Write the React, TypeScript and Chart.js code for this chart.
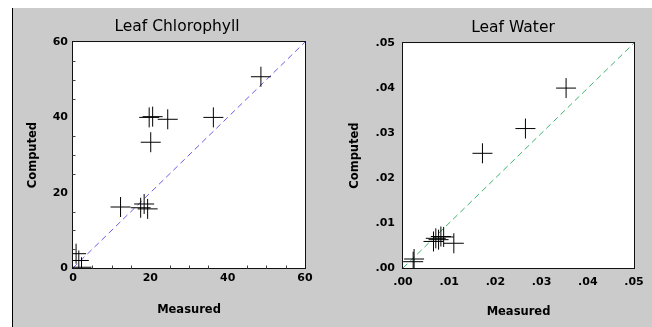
import React, { useEffect, useRef } from "react";
import { Chart, registerables } from "chart.js";

Chart.register(...registerables);

// ---------- data ----------
const chlMeasured = [48.6, 36.3, 19.7, 20.6, 24.5, 20.1, 12.3, 17.5, 18.4, 19.3, 0.8, 1.5, 2.2];
const chlComputed = [50.8, 40.0, 40.0, 40.2, 39.5, 33.4, 16.2, 16.0, 17.0, 15.7, 3.8, 2.0, 0.2];
const chlAxisMin = 0;
const chlAxisMax = 60;
const chlStep = 20;
const chlMinorTicks = [5, 10, 15, 25, 30, 35, 45, 50, 55];

const watMeasured = [0.0353, 0.0265, 0.0172, 0.0066, 0.0071, 0.0077, 0.0082, 0.0088, 0.011, 0.0024, 0.0022];
const watComputed = [0.040, 0.031, 0.0255, 0.0059, 0.0066, 0.0063, 0.007, 0.0069, 0.0055, 0.002, 0.0014];
const watAxisMin = 0;
const watAxisMax = 0.05;
const watStep = 0.01;
const watMinorTicks: number[] = [];

const FONT = "'DejaVu Sans', Verdana, sans-serif";

const framePlugin = {
  id: "plotFrame",
  beforeDraw(chart: any) {
    const { ctx, chartArea } = chart;
    const { left, top, right, bottom } = chartArea;
    ctx.save();
    ctx.fillStyle = "#ffffff";
    ctx.fillRect(left, top, right - left, bottom - top);
    ctx.restore();
  },
  afterDraw(chart: any, _args: any, opts: any) {
    const { ctx, chartArea, scales } = chart;
    const { left, top, right, bottom } = chartArea;
    ctx.save();
    ctx.strokeStyle = "#111";
    ctx.lineWidth = 1;
    const l = Math.round(left) - 0.5;
    const t = Math.round(top) - 0.5;
    const r = Math.round(right) + 0.5;
    const b = Math.round(bottom) + 0.5;
    ctx.strokeRect(l, t, r - l, b - t);
    ctx.strokeStyle = "#444";
    const minor: number[] = (opts && opts.minor) || [];
    for (const v of minor) {
      const x = Math.round(scales.x.getPixelForValue(v)) + 0.5;
      ctx.beginPath();
      ctx.moveTo(x, b);
      ctx.lineTo(x, b - 3);
      ctx.stroke();
      const y = Math.round(scales.y.getPixelForValue(v)) + 0.5;
      ctx.beginPath();
      ctx.moveTo(l, y);
      ctx.lineTo(l + 3, y);
      ctx.stroke();
    }
    ctx.restore();
  },
};

type PanelProps = {
  title: string;
  measured: number[];
  computed: number[];
  min: number;
  max: number;
  step: number;
  minor: number[];
  lineColor: string;
  width: number;
  height: number;
  yAxisWidth: number;
  rightGap: number;
  xAxisHeight: number;
  yTitlePad: number;
  xTitlePad: number;
  yTickPad: number;
  xTickPad: number;
  topPad: number;
  fmt: (v: number) => string;
};

function Panel(p: PanelProps) {
  const ref = useRef<HTMLCanvasElement | null>(null);
  useEffect(() => {
    if (!ref.current) return;
    const points = p.measured.map((m, i) => ({ x: m, y: p.computed[i] }));
    const tickFont = { family: FONT, size: 11, weight: "bold" as const };
    const titleFont = { family: FONT, size: 11.5, weight: "bold" as const };
    const chart = new Chart(ref.current, {
      type: "scatter",
      data: {
        datasets: [
          {
            data: points,
            pointStyle: "cross",
            pointRadius: 10,
            pointBorderWidth: 1,
            borderColor: "#000",
            backgroundColor: "#000",
            pointHoverRadius: 10,
            order: 0,
          },
          {
            data: [
              { x: p.min, y: p.min },
              { x: p.max, y: p.max },
            ],
            showLine: true,
            borderColor: p.lineColor,
            borderWidth: 1,
            borderDash: [6, 4],
            pointRadius: 0,
            pointHoverRadius: 0,
            order: 1,
          } as any,
        ],
      },
      options: {
        responsive: false,
        devicePixelRatio: 1,
        animation: false,
        events: [],
        layout: { padding: { top: p.topPad, left: 0, right: 0, bottom: 0 } },
        plugins: {
          legend: { display: false },
          tooltip: { enabled: false },
          title: {
            display: true,
            text: p.title,
            color: "#000",
            font: { family: FONT, size: 15.5, weight: "normal" },
            padding: { top: 9.5, bottom: 6 },
          },
          plotFrame: { minor: p.minor },
        } as any,
        scales: {
          x: {
            type: "linear",
            min: p.min,
            max: p.max,
            grid: { display: false, drawTicks: false },
            border: { display: false },
            ticks: {
              stepSize: p.step,
              color: "#000",
              font: tickFont,
              padding: p.xTickPad,
              maxRotation: 0,
              autoSkip: false,
              callback: (v: any) => p.fmt(Number(v)),
            },
            title: {
              display: true,
              text: "Measured",
              color: "#000",
              font: titleFont,
              padding: { top: 0, bottom: p.xTitlePad },
            },
            afterFit: (s: any) => {
              s.height = p.xAxisHeight;
            },
          },
          y: {
            type: "linear",
            min: p.min,
            max: p.max,
            grid: { display: false, drawTicks: false },
            border: { display: false },
            ticks: {
              stepSize: p.step,
              color: "#000",
              font: tickFont,
              padding: p.yTickPad,
              autoSkip: false,
              callback: (v: any) => p.fmt(Number(v)),
            },
            title: {
              display: true,
              text: "Computed",
              color: "#000",
              font: titleFont,
              padding: { top: p.yTitlePad, bottom: 0 },
            },
            afterFit: (s: any) => {
              s.width = p.yAxisWidth;
            },
          },
          gap: {
            type: "linear",
            position: "right",
            display: true,
            grid: { display: false, drawTicks: false },
            border: { display: false },
            ticks: { display: false },
            afterFit: (s: any) => {
              s.width = p.rightGap;
            },
          },
        } as any,
      },
      plugins: [framePlugin],
    });
    return () => chart.destroy();
  }, []);
  return <canvas ref={ref} width={p.width} height={p.height} style={{ display: "block", width: p.width, height: p.height }} />;
}

const fmtInt = (v: number) => String(Math.round(v));
const fmtDec = (v: number) => v.toFixed(2).replace(/^0/, "");

export default function App() {
  return (
    <div
      style={{
        position: "fixed",
        left: 12,
        top: 8,
        width: 640,
        height: 319,
        borderLeft: "1px solid #000",
        background: "#cbcbcb",
        overflow: "hidden",
      }}
    >
      <div style={{ position: "absolute", left: 0, top: 0 }}>
        <Panel
          title="Leaf Chlorophyll"
          measured={chlMeasured}
          computed={chlComputed}
          min={chlAxisMin}
          max={chlAxisMax}
          step={chlStep}
          minor={chlMinorTicks}
          lineColor="#6f5ee8"
          width={328}
          height={319}
          yAxisWidth={60}
          rightGap={36}
          xAxisHeight={59}
          yTitlePad={13}
          xTitlePad={10}
          yTickPad={5}
          xTickPad={4}
          topPad={0}
          fmt={fmtInt}
        />
      </div>
      <div style={{ position: "absolute", left: 328, top: 0 }}>
        <Panel
          title="Leaf Water"
          measured={watMeasured}
          computed={watComputed}
          min={watAxisMin}
          max={watAxisMax}
          step={watStep}
          minor={watMinorTicks}
          lineColor="#3cb46e"
          width={344}
          height={319}
          yAxisWidth={62}
          rightGap={51}
          xAxisHeight={59}
          yTitlePad={7}
          xTitlePad={8.5}
          yTickPad={8}
          xTickPad={7.5}
          topPad={1}
          fmt={fmtDec}
        />
      </div>
    </div>
  );
}
